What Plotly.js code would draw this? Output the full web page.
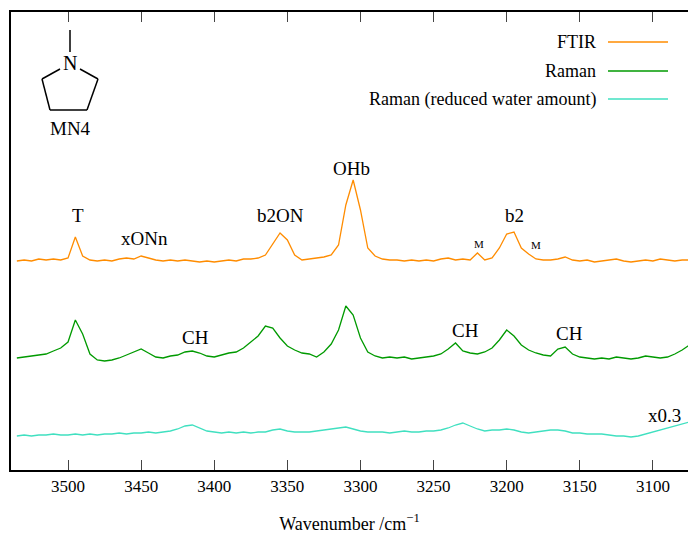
<!DOCTYPE html>
<html>
<head>
<meta charset="utf-8">
<script src="https://cdn.plot.ly/plotly-3.0.1.min.js"></script>
<style>body{margin:0;background:#fff}</style>
</head>
<body>
<div id="chart" style="width:688px;height:557px"></div>
<script>
// wavenumber grid, 3535 down to 3075 in steps of 5
const wavenumber = [
  3535,3530,3525,3520,3515,3510,3505,3500,3495,3490,
  3485,3480,3475,3470,3465,3460,3455,3450,3445,3440,
  3435,3430,3425,3420,3415,3410,3405,3400,3395,3390,
  3385,3380,3375,3370,3365,3360,3355,3350,3345,3340,
  3335,3330,3325,3320,3315,3310,3305,3300,3295,3290,
  3285,3280,3275,3270,3265,3260,3255,3250,3245,3240,
  3235,3230,3225,3220,3215,3210,3205,3200,3195,3190,
  3185,3180,3175,3170,3165,3160,3155,3150,3145,3140,
  3135,3130,3125,3120,3115,3110,3105,3100,3095,3090,
  3085,3080,3075];

const ftir = [
  209,210,209,211,210,211,210,212,233,214,
  210,209,210,209,211,212,211,214,212,210,
  209,210,209,210,209,208,209,208,209,210,
  209,211,211,212,215,226,237,230,215,210,
  211,212,213,215,225,265,290,260,222,214,
  211,210,210,209,210,209,210,209,211,212,
  210,211,210,217,210,212,222,236,238,222,
  216,211,210,210,211,213,210,209,210,208,
  209,210,211,209,208,209,210,209,211,210,
  209,210,210];

const raman = [
  112,113,114,115,116,119,122,128,150,136,
  116,110,109,110,112,115,118,121,117,113,
  112,114,115,118,119,117,114,113,115,117,
  118,122,128,134,144,142,132,124,120,117,
  116,113,118,126,140,164,155,132,118,114,
  112,113,112,113,111,112,113,114,116,121,
  127,119,117,116,118,122,130,140,134,125,
  120,117,115,114,121,123,116,113,112,111,
  112,111,113,112,111,112,114,113,112,113,
  116,120,125];

const ramanReduced = [
  34,35,34,35,35,36,35,35,36,35,
  36,35,36,36,37,36,37,37,38,37,
  38,39,41,44,45,42,39,38,37,38,
  37,38,37,38,38,40,41,39,38,38,
  38,39,40,41,42,43,41,39,38,38,
  38,37,38,39,38,38,39,39,40,42,
  45,47,44,41,39,40,40,41,40,38,
  37,38,39,40,40,39,37,37,36,36,
  36,35,34,34,33,34,36,38,40,42,
  44,46,48];

const seriesNames = ['FTIR', 'Raman', 'Raman (reduced water amount)'];
const seriesColors = ['#ff8c00', '#009a00', '#40e0c0'];

// peak labels: text, wavenumber, height, size
const labelText = ['T','xONn','b2ON','OHb','M','b2','M','CH','CH','CH','x0.3'];
const labelX    = [3493,3448,3355,3306,3219,3195,3180,3413,3228,3157,3092];
const labelY    = [255,232,255,302,226,255,225,133,140,137,55];
const labelSize = [19,19,19,19,11,19,11,19,19,19,19];

const font = "'Liberation Serif', 'Times New Roman', serif";
const W = 688, H = 557, ml = 11, mt = 12, mb = 87;
// pixel -> paper helpers for the decoration drawn on top
const px = x => (x - ml) / (W - ml);
const py = y => (H - mb - y) / (H - mb - mt);

const ys = [ftir, raman, ramanReduced];
const data = ys.map((y, i) => ({
  x: wavenumber, y: y, type: 'scatter', mode: 'lines',
  name: seriesNames[i], line: {color: seriesColors[i], width: 1.3},
  showlegend: false
}));

const annotations = labelText.map((t, i) => ({
  x: labelX[i], y: labelY[i], xref: 'x', yref: 'y', text: t,
  xanchor: 'center', yanchor: 'middle',
  showarrow: false, font: {family: font, size: labelSize[i], color: '#000'}
}));

const shapes = [];
// hand-made legend, text then line sample
const legY = [42, 71, 99];
seriesNames.forEach((n, i) => {
  annotations.push({x: px(598), y: py(legY[i]), xref: 'paper', yref: 'paper',
    xanchor: 'right', yanchor: 'middle', text: n, showarrow: false,
    font: {family: font, size: 18, color: '#000'}});
  shapes.push({type: 'line', xref: 'paper', yref: 'paper',
    x0: px(608), x1: px(668), y0: py(legY[i]), y1: py(legY[i]),
    line: {color: seriesColors[i], width: 1.3}});
});

// N-methylpyrrolidine sketch
const bonds = [
  [70,30,70,52], [60,69,42,79], [42,79,50,110], [50,110,87,110],
  [87,110,98,79], [98,79,80,69]
];
bonds.forEach(b => shapes.push({type: 'line', xref: 'paper', yref: 'paper',
  x0: px(b[0]), y0: py(b[1]), x1: px(b[2]), y1: py(b[3]),
  line: {color: '#000', width: 1.5}}));
annotations.push({x: px(70), y: py(63), xref: 'paper', yref: 'paper', text: 'N',
  xanchor: 'center', yanchor: 'middle',
  showarrow: false, font: {family: font, size: 20, color: '#000'}});
annotations.push({x: px(70), y: py(128), xref: 'paper', yref: 'paper', text: 'MN4',
  xanchor: 'center', yanchor: 'middle',
  showarrow: false, font: {family: font, size: 19, color: '#000'}});

const layout = {
  width: W, height: H,
  margin: {l: ml, r: 0, t: mt, b: mb},
  paper_bgcolor: '#fff', plot_bgcolor: '#fff',
  font: {family: font, size: 17, color: '#000'},
  xaxis: {
    range: [3539, 3076], dtick: 50, tick0: 3100, ticks: 'inside', ticklen: 10,
    tickwidth: 1, showgrid: false, zeroline: false, showline: true,
    linecolor: '#000', linewidth: 1.5, mirror: 'ticks',
    tickfont: {family: font, size: 17, color: '#000'},
    title: {text: 'Wavenumber /cm<sup>−1</sup>', font: {family: font, size: 18, color: '#000'}, standoff: 22}
  },
  yaxis: {
    range: [0, 458], showticklabels: false, ticks: '', showgrid: false,
    zeroline: false, showline: true, linecolor: '#000', linewidth: 1.5
  },
  annotations: annotations,
  shapes: shapes
};

Plotly.newPlot('chart', data, layout, {displayModeBar: false});
</script>
</body>
</html>
